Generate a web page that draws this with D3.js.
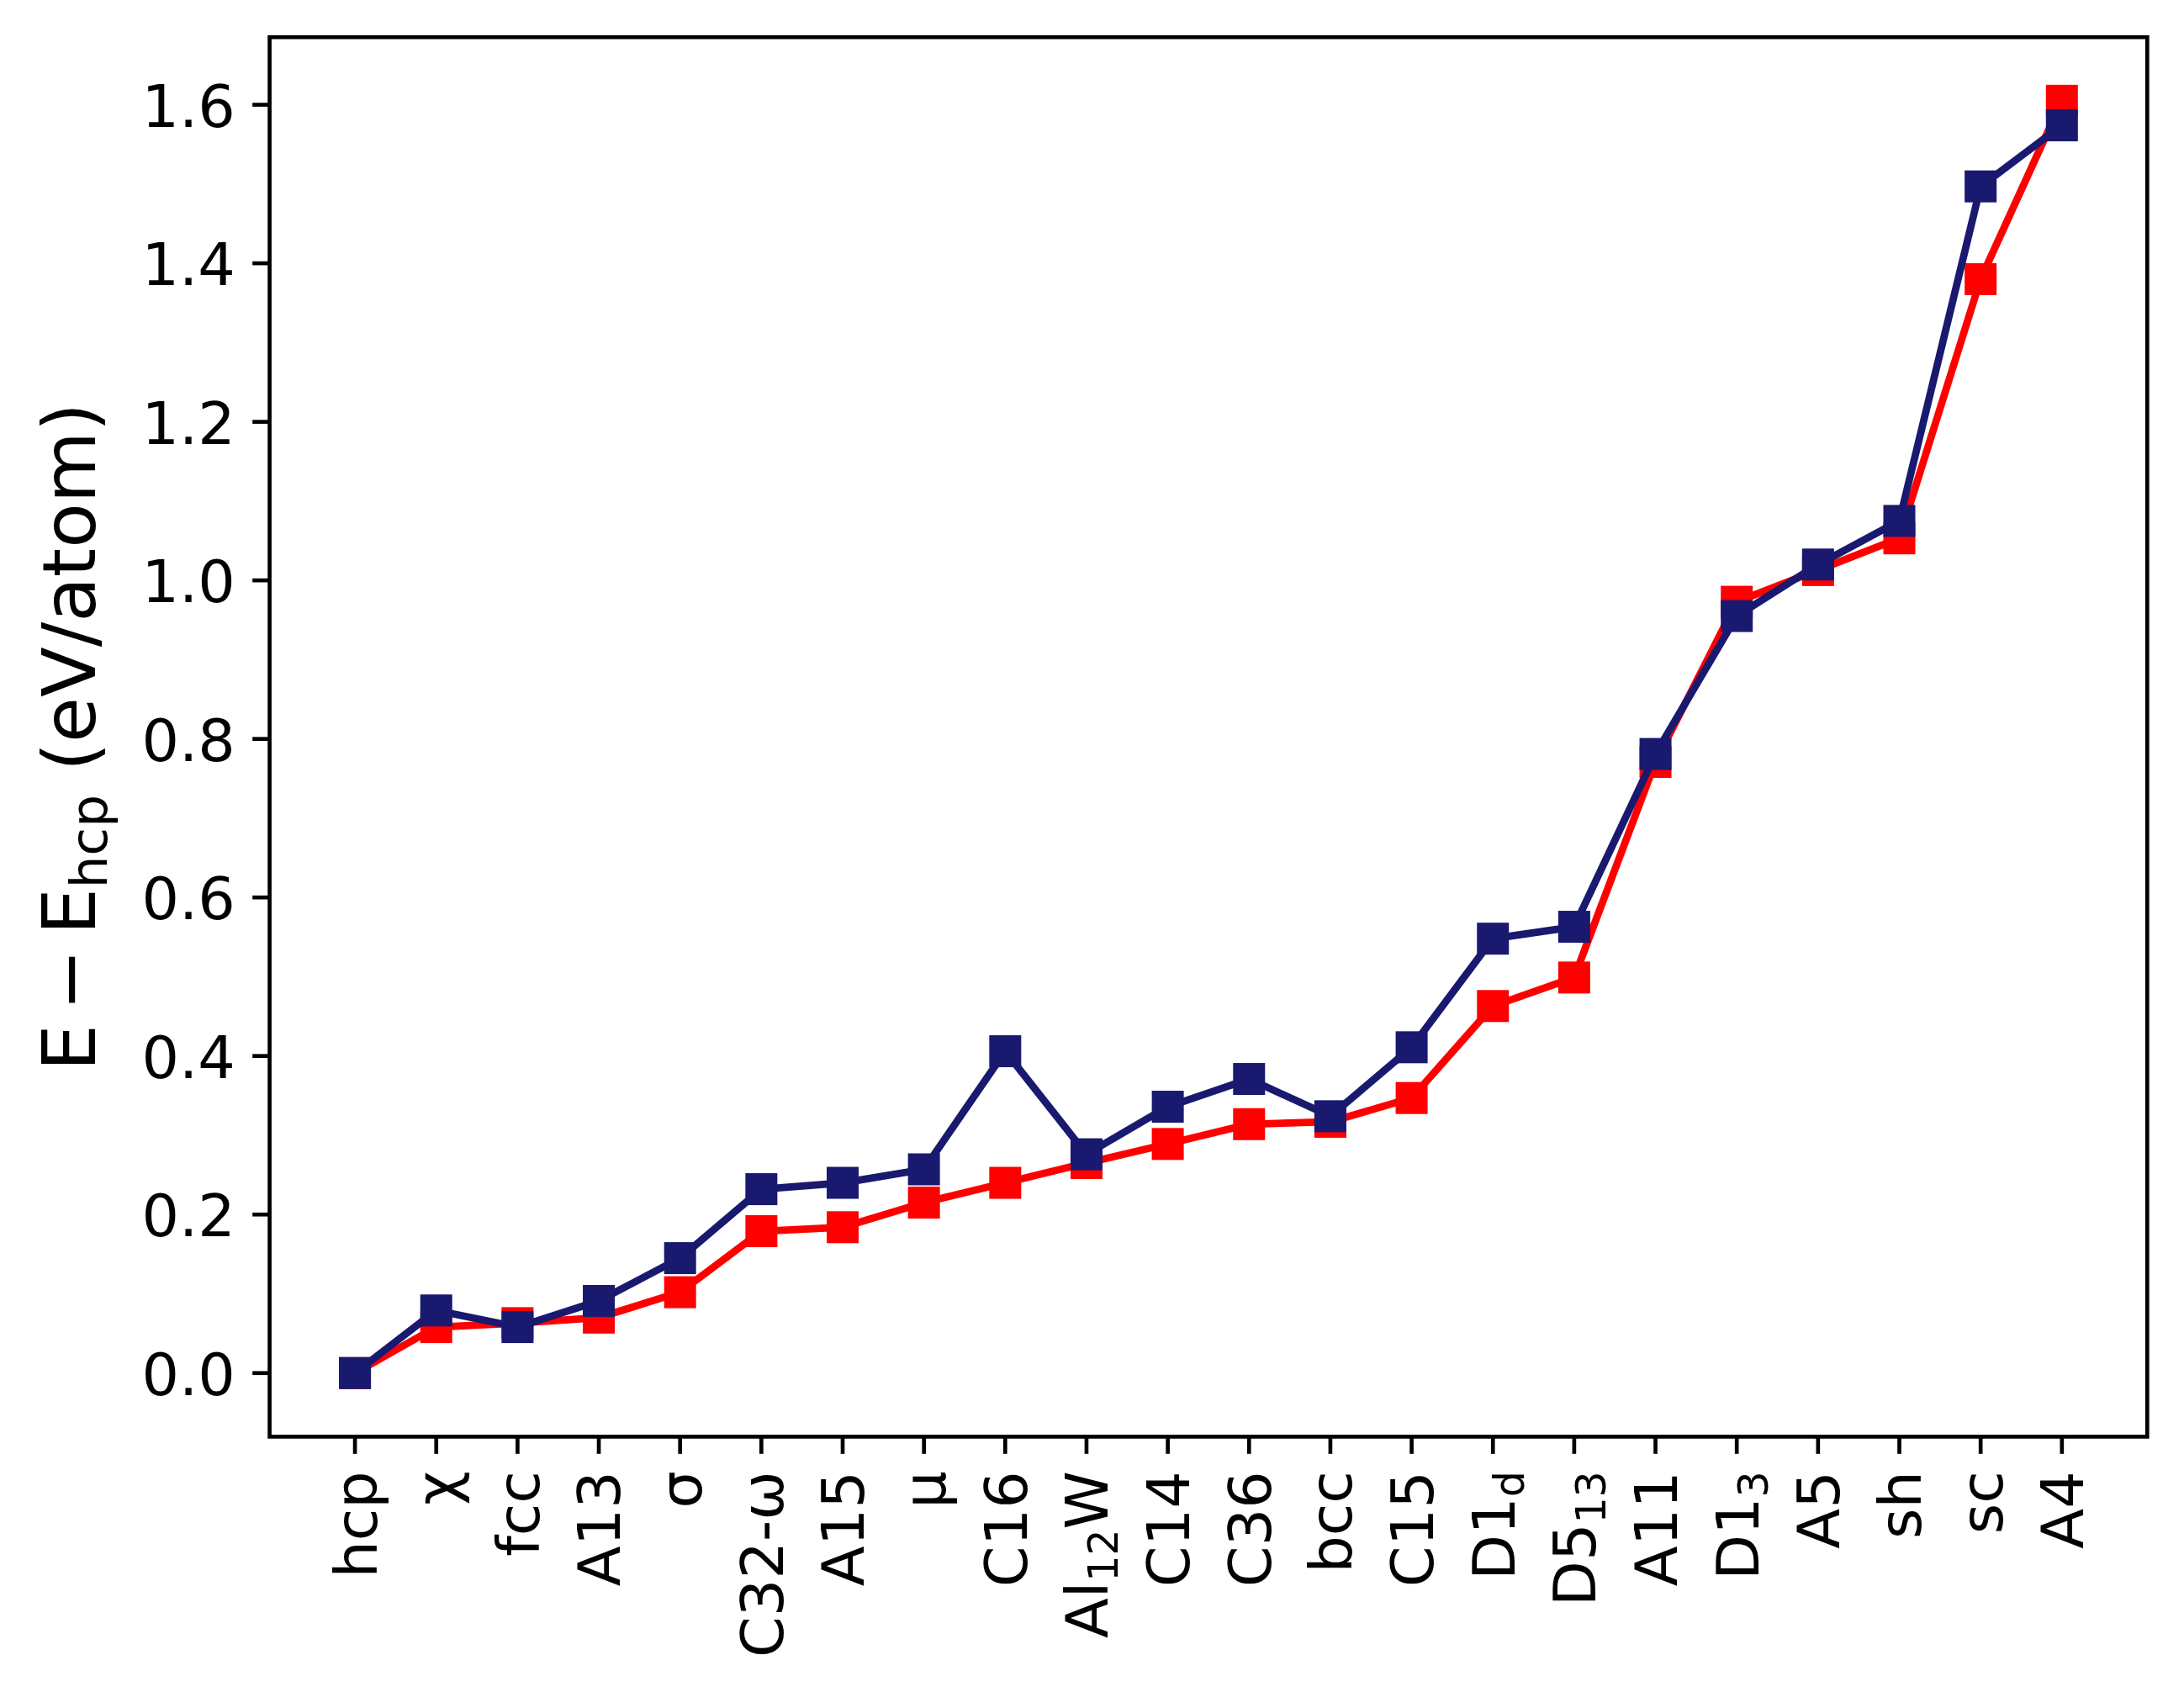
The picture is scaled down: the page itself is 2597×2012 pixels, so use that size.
<!DOCTYPE html>
<html>
<head>
<meta charset="utf-8">
<script src="https://cdn.jsdelivr.net/npm/d3@7"></script>
<style>
  html, body { margin: 0; padding: 0; background: #fff; }
  svg { display: block; }
  text { font-family: "DejaVu Sans", sans-serif; fill: #000; }
</style>
</head>
<body>
<svg id="chart" width="2597" height="2012"></svg>
<script>
// ---- data ----
const categories = ["hcp", "χ", "fcc", "A13", "σ", "C32-ω", "A15", "μ", "C16", "Al_{12}W",
  "C14", "C36", "bcc", "C15", "D1_{d}", "D5_{13}", "A11", "D1_{3}", "A5", "sh", "sc", "A4"];
const redValues = [0.000, 0.058, 0.063, 0.070, 0.102, 0.179, 0.184, 0.215, 0.240, 0.265,
  0.289, 0.314, 0.317, 0.347, 0.463, 0.499, 0.771, 0.973, 1.013, 1.053, 1.380, 1.605];
const blueValues = [0.000, 0.079, 0.058, 0.091, 0.145, 0.232, 0.240, 0.257, 0.406, 0.276,
  0.336, 0.371, 0.324, 0.411, 0.548, 0.563, 0.781, 0.955, 1.020, 1.075, 1.497, 1.574];
const yTicks = [0.0, 0.2, 0.4, 0.6, 0.8, 1.0, 1.2, 1.4, 1.6];
const yTickLabels = ["0.0", "0.2", "0.4", "0.6", "0.8", "1.0", "1.2", "1.4", "1.6"];

(function () {
// ---- layout ----
const pt = 5.833;               // px per point
const axL = 320.6, axR = 2553.3, axT = 44.2, axB = 1708.4;
const spineW = 0.8 * pt, tickLen = 3.5 * pt, pad = 3.5 * pt;
const tickFont = 12 * pt, labelFont = 15 * pt;
const lineW = 1.5 * pt, markerSide = 38;

const svg = d3.select("#chart");
svg.append("rect").attr("width", 2597).attr("height", 2012).attr("fill", "#fff");

const n = categories.length;
const x = d3.scaleLinear().domain([-0.05 * (n - 1), (n - 1) * 1.05]).range([axL, axR]);
const allV = redValues.concat(blueValues);
const vmin = d3.min(allV), vmax = d3.max(allV), span = vmax - vmin;
const y = d3.scaleLinear().domain([vmin - 0.05 * span, vmax + 0.05 * span]).range([axB, axT]);

// ---- series ----
const series = [
  { values: redValues, color: "#ff0000" },
  { values: blueValues, color: "#191970" }
];
const line = d3.line().x((d, i) => x(i)).y(d => y(d));
const plot = svg.append("g");
series.forEach(s => {
  plot.append("path").datum(s.values)
    .attr("d", line).attr("fill", "none").attr("stroke", s.color)
    .attr("stroke-width", lineW).attr("stroke-linejoin", "round");
  plot.selectAll(null).data(s.values).enter().append("rect")
    .attr("x", (d, i) => x(i) - markerSide / 2)
    .attr("y", d => y(d) - markerSide / 2)
    .attr("width", markerSide).attr("height", markerSide)
    .attr("fill", s.color);
});

// ---- spines ----
svg.append("rect")
  .attr("x", axL).attr("y", axT).attr("width", axR - axL).attr("height", axB - axT)
  .attr("fill", "none").attr("stroke", "#000").attr("stroke-width", spineW)
  .attr("stroke-linejoin", "miter");

// ---- y axis ----
const yAxis = svg.append("g");
yTicks.forEach((t, i) => {
  const yy = y(t);
  yAxis.append("line").attr("x1", axL - tickLen).attr("x2", axL)
    .attr("y1", yy).attr("y2", yy).attr("stroke", "#000").attr("stroke-width", spineW);
  yAxis.append("text").attr("x", axL - tickLen - pad).attr("y", yy + 26)
    .attr("text-anchor", "end").attr("font-size", tickFont).text(yTickLabels[i]);
});

// ---- x axis ----
function addRich(textSel, label, size) {
  const parts = label.split(/(_\{[^}]*\})/).filter(p => p.length);
  let shifted = 0;
  parts.forEach(p => {
    const m = p.match(/^_\{([^}]*)\}$/);
    if (m) {
      textSel.append("tspan").attr("font-size", size * 0.7).attr("dy", size * 0.16 - shifted).text(m[1]);
      shifted = size * 0.16;
    } else {
      textSel.append("tspan").attr("font-size", size).attr("dy", -shifted).text(p);
      shifted = 0;
    }
  });
}
const xAxis = svg.append("g");
categories.forEach((c, i) => {
  const xx = x(i);
  xAxis.append("line").attr("x1", xx).attr("x2", xx)
    .attr("y1", axB).attr("y2", axB + tickLen)
    .attr("stroke", "#000").attr("stroke-width", spineW);
  const t = xAxis.append("text")
    .attr("transform", `translate(${xx},${axB + tickLen + pad}) rotate(-90)`)
    .attr("text-anchor", "end").attr("x", 0).attr("y", 0.363 * tickFont)
    .attr("font-size", tickFont);
  addRich(t, c, tickFont);
});

// ---- y label ----
const yl = svg.append("text")
  .attr("transform", `translate(112.7,${(axT + axB) / 2}) rotate(-90)`)
  .attr("text-anchor", "middle").attr("font-size", labelFont);
yl.append("tspan").text("E");
yl.append("tspan").attr("dx", 16.5).text("−");
yl.append("tspan").attr("dx", 17).text("E");
yl.append("tspan").attr("font-size", labelFont * 0.7).attr("dy", 14).text("hcp");
yl.append("tspan").attr("dy", -14).text(" (eV/atom)");
})();
</script>
</body>
</html>
